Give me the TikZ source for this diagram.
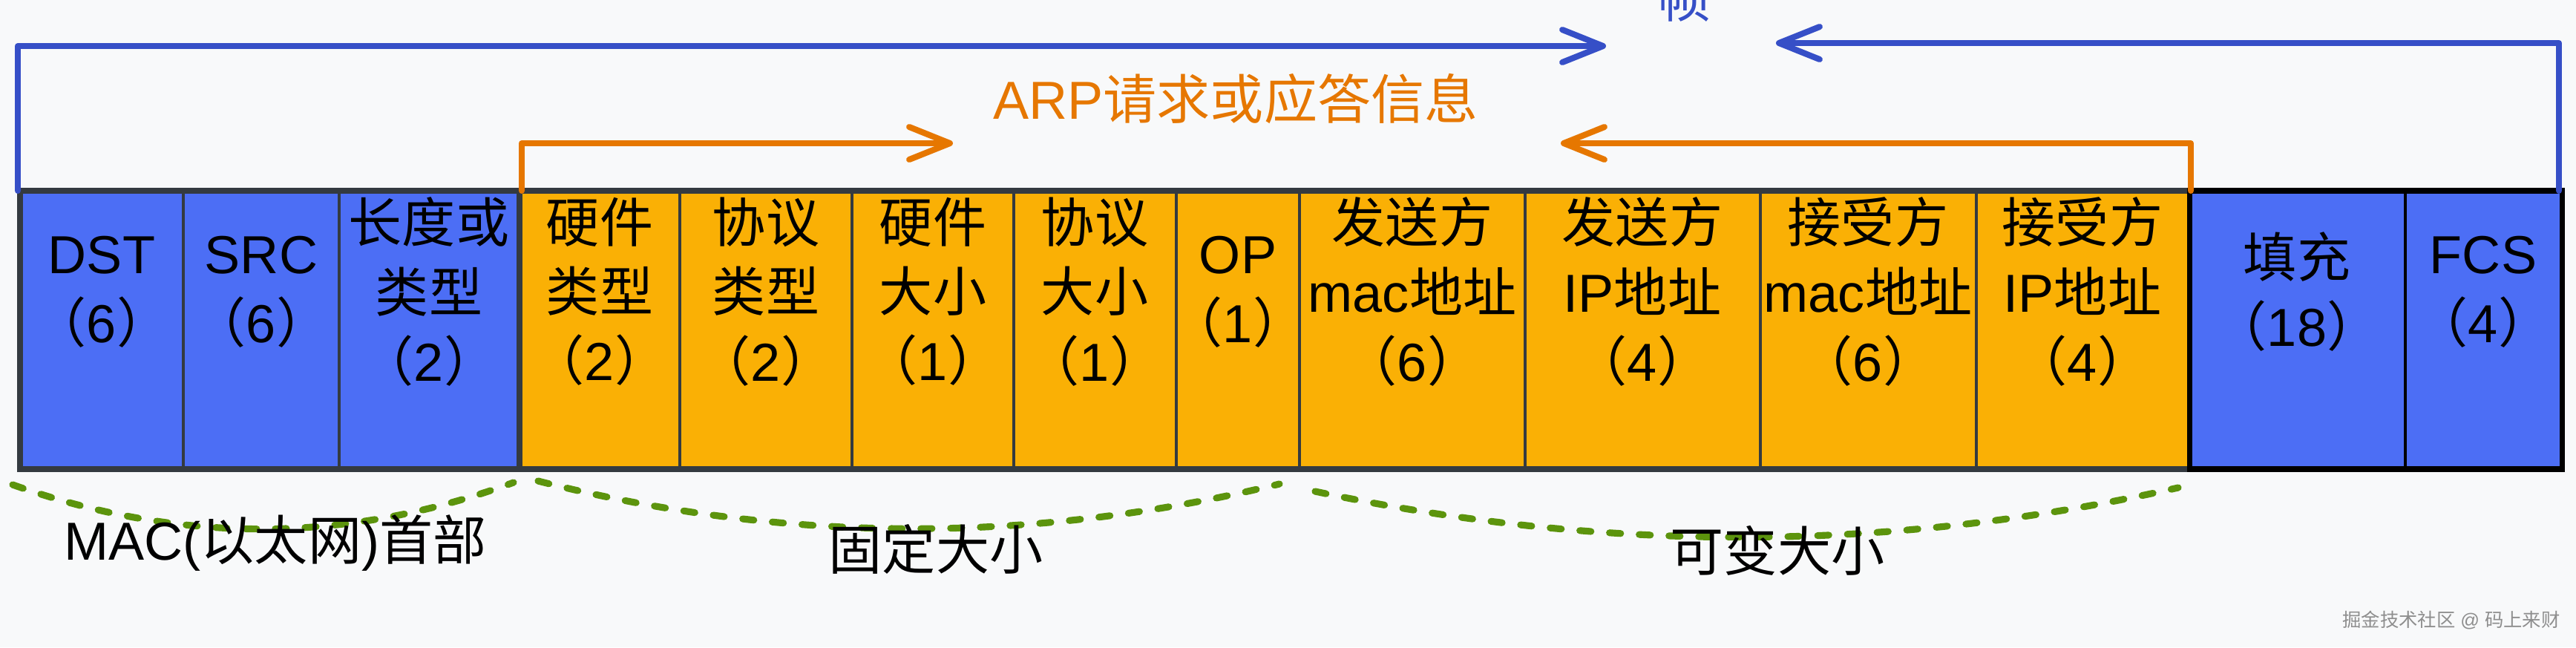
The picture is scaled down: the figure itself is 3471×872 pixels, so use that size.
\documentclass[tikz,border=0pt]{standalone}
\usepackage{fontspec}
\setmainfont{Liberation Sans}
\newfontfamily\cjk{Noto Sans CJK SC}
\usepackage{xcolor}
\usepackage{tikz}
\usetikzlibrary{arrows.meta}

\definecolor{paper}{HTML}{F8F9FA}
\definecolor{macfill}{HTML}{4C6EF5}
\definecolor{arpfill}{HTML}{FAB005}
\definecolor{framecol}{HTML}{364FC7}
\definecolor{arpcol}{HTML}{E67700}
\definecolor{bracecol}{HTML}{5C940D}
\definecolor{edgecol}{HTML}{343A40}
\definecolor{markcol}{HTML}{8E8E8E}

\newcommand{\zh}[1]{{\cjk #1}}
\newcommand{\bytes}[1]{\zh{（}#1\zh{）}}

\tikzset{
  field/.style={align=center, inner sep=0pt, font=\fontsize{20.5}{26.5}\selectfont},
  boxedge/.style={draw=edgecol, line width=2pt},
  divider/.style={draw=edgecol, line width=1.3pt},
  span/.style={line width=2.3pt, line cap=round, line join=round,
    -{Straight Barb[length=15.6pt, width=12.5pt, round]}},
  brace/.style={draw=bracecol, line width=2.6pt, line cap=round, dash pattern=on 4.3pt off 7.1pt}
}

\begin{document}
\begin{tikzpicture}[x=0.01cm, y=-0.01cm]
  \path[use as bounding box, fill=paper] (0,0) rectangle (3471,872);

  \fill[macfill] (27,257) rectangle (700,632);
  \fill[arpfill] (700,257) rectangle (2950,632);
  \fill[macfill] (2950,257) rectangle (3452,632);

  \draw[divider] (247,257) -- (247,632);
  \draw[divider] (457,257) -- (457,632);
  \draw[divider] (916,257) -- (916,632);
  \draw[divider] (1148,257) -- (1148,632);
  \draw[divider] (1366,257) -- (1366,632);
  \draw[divider] (1585,257) -- (1585,632);
  \draw[divider] (1751,257) -- (1751,632);
  \draw[divider] (2055,257) -- (2055,632);
  \draw[divider] (2372,257) -- (2372,632);
  \draw[divider] (2663,257) -- (2663,632);
  \draw[divider, draw=black] (3241,257) -- (3241,632);

  \draw[boxedge] (27,257) rectangle (700,632);
  \draw[boxedge] (700,257) rectangle (2950,632);
  \draw[boxedge, draw=black] (2950,257) rectangle (3452,632);

  \node[field] (dst) at (137,393) {DST\\\bytes{6}};
  \node[field] (src) at (352,393) {SRC\\\bytes{6}};
  \node[field] (lentype) at (578,393) {\zh{长度或}\\\zh{类型}\\\bytes{2}};
  \node[field] (hwtype) at (808,393) {\zh{硬件}\\\zh{类型}\\\bytes{2}};
  \node[field] (prototype) at (1032,393) {\zh{协议}\\\zh{类型}\\\bytes{2}};
  \node[field] (hwsize) at (1257,393) {\zh{硬件}\\\zh{大小}\\\bytes{1}};
  \node[field] (protosize) at (1475,393) {\zh{协议}\\\zh{大小}\\\bytes{1}};
  \node[field] (op) at (1668,393) {OP\\\bytes{1}};
  \node[field] (sendmac) at (1903,393) {\zh{发送方}\\mac\zh{地址}\\\bytes{6}};
  \node[field] (sendip) at (2213,393) {\zh{发送方}\\IP\zh{地址}\\\bytes{4}};
  \node[field] (recvmac) at (2517,393) {\zh{接受方}\\mac\zh{地址}\\\bytes{6}};
  \node[field] (recvip) at (2806,393) {\zh{接受方}\\IP\zh{地址}\\\bytes{4}};
  \node[field] (pad) at (3095,393) {\zh{填充}\\\bytes{18}};
  \node[field] (fcs) at (3346,393) {FCS\\\bytes{4}};

  % frame and ARP spans
  \coordinate (frameL) at (24,257);
  \coordinate (frameLtip) at (2164,62);
  \coordinate (frameR) at (3448,257);
  \coordinate (frameRtip) at (2393,58);
  \coordinate (arpL) at (703,257);
  \coordinate (arpLtip) at (1284,193);
  \coordinate (arpR) at (2952,257);
  \coordinate (arpRtip) at (2103,193);

  \draw[span, framecol] (frameL) |- (frameLtip);
  \draw[span, framecol] (frameR) |- (frameRtip);
  \draw[span, arpcol] (arpL) |- (arpLtip);
  \draw[span, arpcol] (arpR) |- (arpRtip);

  \node[field, text=framecol] (frame) at (2270,-4) {\zh{帧}};
  \node[field, text=arpcol] (arp) at (1665,133) {ARP\zh{请求或应答信息}};

  % braces below the fields
  \coordinate (macA) at (17,653);
  \coordinate (macB) at (692,650);
  \coordinate (fixA) at (725,648);
  \coordinate (fixB) at (1724,652);
  \coordinate (varA) at (1772,662);
  \coordinate (varB) at (2935,657);

  \draw[brace] (macA) .. controls (242,733) and (467,733) .. (macB);
  \draw[brace] (fixA) .. controls (1058,733) and (1391,733) .. (fixB);
  \draw[brace] (varA) .. controls (2160,745) and (2547,745) .. (varB);

  \node[field] (machead) at (371,732) {MAC(\zh{以太网})\zh{首部}};
  \node[field] (fixed) at (1261,740) {\zh{固定大小}};
  \node[field] (variable) at (2395,742) {\zh{可变大小}};

  \node[inner sep=0pt, text=markcol, font=\fontsize{7.2}{8}\selectfont] (mark) at (3303,835) {\zh{掘金技术社区} @ \zh{码上来财}};
\end{tikzpicture}
\end{document}
